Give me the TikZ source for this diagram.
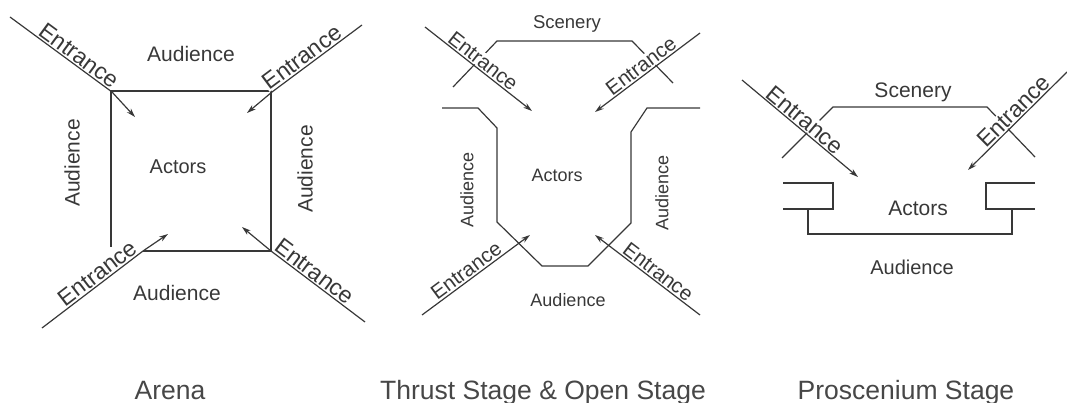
\documentclass[tikz,border=0pt]{standalone}
\usepackage{fontspec}
\setmainfont{Liberation Sans}
\usetikzlibrary{arrows.meta}
\definecolor{ink}{HTML}{383838}
\begin{document}
\begin{tikzpicture}[x=1pt,y=-1pt,
  ln/.style={draw=ink, line width=1.2pt},
  arr/.style={ln, -{Stealth[length=9pt,width=5.5pt]}},
  ent/.style={sloped, above=0.8pt, inner sep=0.6pt, fill=white, text=ink,
    font=\fontsize{#1}{#1}\selectfont},
  ent/.default=22,
  lab/.style={inner sep=0pt, text=ink, font=\fontsize{#1}{#1}\selectfont},
  lab/.default=20,
  capt/.style={anchor=base, inner sep=0pt, text=black!72, font=\fontsize{26.5}{30}\selectfont}]
\useasboundingbox (0,0) rectangle (1067,403);

% ---------------- Arena ----------------
\coordinate (a1o) at (10,17);   \coordinate (a1c) at (112,92);  \coordinate (a1t) at (135,117);
\coordinate (a2o) at (362,25);  \coordinate (a2c) at (272,92);  \coordinate (a2t) at (247,113);
\coordinate (a3o) at (42,328);  \coordinate (a3c) at (143,251); \coordinate (a3t) at (168,234);
\coordinate (a4o) at (365,322); \coordinate (a4c) at (271,251); \coordinate (a4t) at (242,227);
\draw[ln] (a3c) -- (a4c) -- (271,91) -- (111,91) -- (111,247);
\draw[arr] (a1o) -- node[ent=23,pos=0.62] (a1e) {Entrance} (a1c) -- (a1t);
\draw[arr] (a2o) -- node[ent=23,pos=0.6] (a2e) {Entrance} (a2c) -- (a2t);
\draw[arr] (a3o) -- node[ent=23,pos=0.61] (a3e) {Entrance} (a3c) -- (a3t);
\draw[arr] (a4o) -- node[ent=23,pos=0.6] (a4e) {Entrance} (a4c) -- (a4t);
\node[lab=21] (aAt) at (191,54) {Audience};
\node[lab=21,rotate=90] (aAl) at (72,163) {Audience};
\node[lab=21,rotate=90] (aAr) at (305,169) {Audience};
\node[lab=20] (aAc) at (178,167) {Actors};
\node[lab=21] (aAb) at (177,293) {Audience};

% ---------------- Thrust ----------------
\draw[ln] (453,87) -- (497,41) -- (632,41) -- (673,83);
\draw[ln] (442,108) -- (478,108) -- (497,128) -- (497,222) -- (542,266) -- (588,266)
  -- (631,223) -- (631,132) -- (647,108) -- (700,108);
\coordinate (t1o) at (425,27);  \coordinate (t1t) at (532,111);
\coordinate (t2o) at (700,33);  \coordinate (t2t) at (595,112);
\coordinate (t3o) at (422,315); \coordinate (t3t) at (530,235);
\coordinate (t4o) at (700,315); \coordinate (t4t) at (595,235);
\draw[arr] (t1o) -- node[ent=20.5,pos=0.49] (t1e) {Entrance} (t1t);
\draw[arr] (t2o) -- node[ent=20.5,pos=0.51] (t2e) {Entrance} (t2t);
\draw[arr] (t3o) -- node[ent=20.5,pos=0.46] (t3e) {Entrance} (t3t);
\draw[arr] (t4o) -- node[ent=20.5,pos=0.45] (t4e) {Entrance} (t4t);
\node[lab=18.5] (tSc) at (567,24) {Scenery};
\node[lab=18] (tAc) at (557,175) {Actors};
\node[lab=18,rotate=90] (tAl) at (467,190) {Audience};
\node[lab=18,rotate=90] (tAr) at (662,193) {Audience};
\node[lab=18] (tAb) at (568,300) {Audience};

% ---------------- Proscenium ----------------
\draw[ln] (782,158) -- (833,107) -- (987,107) -- (1035,157);
\draw[ln] (783,183) -- (833,183) -- (833,209) -- (783,209);
\draw[ln] (808,209) -- (808,234) -- (1012,234) -- (1012,209);
\draw[ln] (1035,183) -- (986,183) -- (986,209) -- (1035,209);
\coordinate (p1o) at (742,80);  \coordinate (p1t) at (858,177);
\coordinate (p2o) at (1067,72); \coordinate (p2t) at (968,170);
\draw[arr] (p1o) -- node[ent=23,pos=0.49] (p1e) {Entrance} (p1t);
\draw[arr] (p2o) -- node[ent=23,pos=0.47] (p2e) {Entrance} (p2t);
\node[lab=21] (pSc) at (913,92) {Scenery};
\node[lab=21] (pAc) at (918,208) {Actors};
\node[lab=20] (pAb) at (912,267) {Audience};

% ---------------- Captions ----------------
\node[capt] (c1) at (170,399) {Arena};
\node[capt] (c2) at (543,399) {Thrust Stage \& Open Stage};
\node[capt] (c3) at (906,399) {Proscenium Stage};
\end{tikzpicture}
\end{document}
